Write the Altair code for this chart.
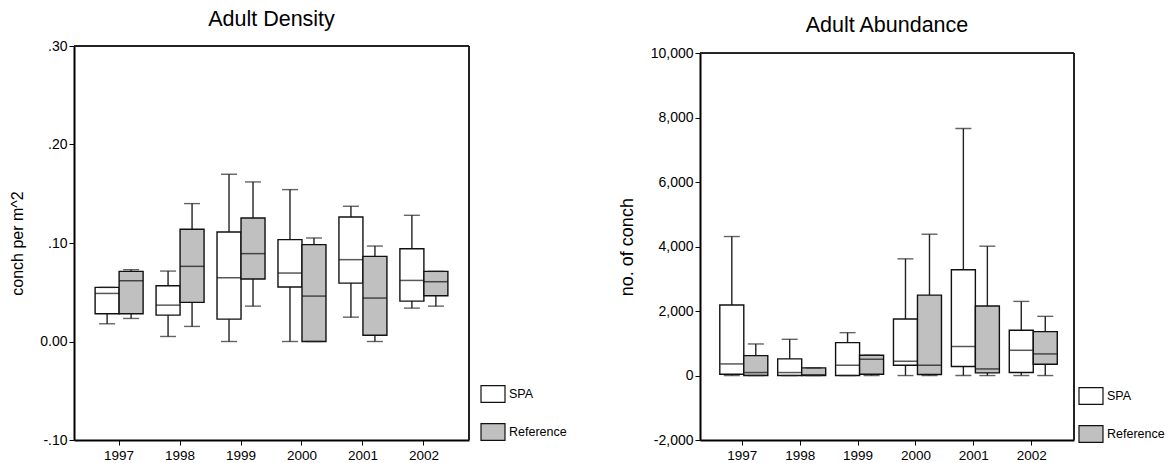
import altair as alt
import pandas as pd

years = ["1997", "1998", "1999", "2000", "2001", "2002"]
groups = ["SPA", "Reference"]

# Adult Density (conch per m^2)
dens_spa_lower = [0.018, 0.0051, 0.0, 0.0, 0.0247, 0.0339]
dens_spa_q1 = [0.0281, 0.0268, 0.0227, 0.0553, 0.0593, 0.0410]
dens_spa_med = [0.0488, 0.0369, 0.0647, 0.0695, 0.0831, 0.0620]
dens_spa_q3 = [0.0549, 0.0566, 0.1112, 0.1034, 0.1264, 0.0942]
dens_spa_upper = [0.0549, 0.0715, 0.1698, 0.1542, 0.1373, 0.1281]
dens_ref_lower = [0.0234, 0.0153, 0.0359, 0.0, 0.0, 0.0359]
dens_ref_q1 = [0.0281, 0.0397, 0.0634, 0.0, 0.0064, 0.0464]
dens_ref_med = [0.0617, 0.0763, 0.0892, 0.0461, 0.0441, 0.0607]
dens_ref_q3 = [0.0712, 0.1139, 0.1254, 0.0983, 0.0864, 0.0712]
dens_ref_upper = [0.0729, 0.1400, 0.1620, 0.1051, 0.0969, 0.0712]

# Adult Abundance (no. of conch)
abund_spa_lower = [0, 0, 0, 0, 0, 0]
abund_spa_q1 = [41, 0, 0, 320, 279, 93]
abund_spa_med = [361, 93, 320, 444, 898, 784]
abund_spa_q3 = [2188, 516, 1022, 1754, 3282, 1404]
abund_spa_upper = [4314, 1125, 1331, 3622, 7668, 2301]
abund_ref_lower = [0, 0, 0, 0, 0, 0]
abund_ref_q1 = [0, 0, 41, 31, 83, 351]
abund_ref_med = [93, 21, 506, 320, 206, 671]
abund_ref_q3 = [619, 237, 630, 2497, 2157, 1362]
abund_ref_upper = [980, 237, 630, 4386, 4014, 1837]

dens_ticks = [-0.1, 0.0, 0.1, 0.2, 0.3]
abund_ticks = [-2000, 0, 2000, 4000, 6000, 8000, 10000]

FONT = "Liberation Sans"


def make_df(spa, ref):
    rows = []
    for g, s in (("SPA", spa), ("Reference", ref)):
        lo, q1, md, q3, up = s
        for i, yr in enumerate(years):
            rows.append(dict(year=yr, group=g, lower=lo[i], q1=q1[i],
                             median=md[i], q3=q3[i], upper=up[i]))
    return pd.DataFrame(rows)


dens_df = make_df(
    (dens_spa_lower, dens_spa_q1, dens_spa_med, dens_spa_q3, dens_spa_upper),
    (dens_ref_lower, dens_ref_q1, dens_ref_med, dens_ref_q3, dens_ref_upper))
abund_df = make_df(
    (abund_spa_lower, abund_spa_q1, abund_spa_med, abund_spa_q3, abund_spa_upper),
    (abund_ref_lower, abund_ref_q1, abund_ref_med, abund_ref_q3, abund_ref_upper))


def panel(df, title, ytitle, ytitle_size, domain, ticks, label_expr, w, h, top_gap,
          xpad, opad, box_w, legend_x, legend_y, title_offset, title_dy):
    x = alt.X("year:N", sort=years,
              scale=alt.Scale(domain=years, paddingInner=0, paddingOuter=xpad),
              axis=alt.Axis(title=None, labelAngle=0))
    xo = alt.XOffset("group:N",
                     scale=alt.Scale(domain=groups, paddingInner=0, paddingOuter=opad))
    yscale = alt.Scale(domain=domain, nice=False, zero=False, range=[h, top_gap])
    yaxis = alt.Axis(title=ytitle, values=ticks, labelExpr=label_expr,
                     titleFontSize=ytitle_size)
    base = alt.Chart(df).encode(x=x, xOffset=xo)
    whisk = base.mark_rule(color="#222", strokeWidth=1.4).encode(
        y=alt.Y("lower:Q", scale=yscale, axis=yaxis), y2="upper:Q")
    box = base.mark_bar(stroke="#111", strokeWidth=1.4).encode(
        y=alt.Y("q1:Q", scale=yscale), y2="q3:Q",
        fill=alt.Fill("group:N",
                      scale=alt.Scale(domain=groups, range=["#ffffff", "#c0c0c0"]),
                      legend=alt.Legend(title=None, orient="none",
                                        legendX=legend_x, legendY=legend_y,
                                        symbolType="M-1,-0.7H1V0.7H-1Z",
                                        symbolSize=576, symbolStrokeColor="#111",
                                        symbolStrokeWidth=1.2, symbolOpacity=1,
                                        labelFontSize=12.5, labelFont=FONT,
                                        labelColor="#000", labelOffset=3,
                                        rowPadding=14, padding=0)))
    med = base.mark_tick(color="#111", size=box_w, thickness=1.5).encode(
        y=alt.Y("median:Q", scale=yscale))
    cap_lo = base.mark_tick(color="#222", size=16, thickness=1.4).encode(
        y=alt.Y("lower:Q", scale=yscale))
    cap_hi = base.mark_tick(color="#222", size=16, thickness=1.4).encode(
        y=alt.Y("upper:Q", scale=yscale))
    # plot frame: top and right edges
    frame_top = alt.Chart(df).mark_rule(color="#222", strokeWidth=1).encode(
        x=alt.value(0), x2=alt.value(w), y=alt.Y(datum=domain[1], scale=yscale))
    frame_right = alt.Chart(df).mark_rule(color="#222", strokeWidth=1).encode(
        x=alt.value(w), y=alt.Y(datum=domain[0], scale=yscale),
        y2=alt.Y2(datum=domain[1]))
    tparams = dict(text=title, fontSize=21.5, fontWeight="normal", font=FONT,
                   color="#000", frame="group", anchor="middle",
                   offset=title_offset, dy=title_dy)
    return alt.layer(whisk, box, med, cap_lo, cap_hi, frame_top, frame_right).properties(
        width=w, height=h, title=alt.TitleParams(**tparams))


left = panel(dens_df, "Adult Density", "conch per m^2", 16, [-0.1, 0.3], dens_ticks,
             "datum.value == 0 ? '0.00' : (datum.value < 0 ? '-' : '') + "
             "replace(format(abs(datum.value), '.2f'), '0.', '.')",
             395, 394, 0, 0.24, 0.27, 24, 406, 335, 9, 0)

right = panel(abund_df, "Adult Abundance", "no. of conch", 18, [-2000, 10000],
              abund_ticks,
              "(datum.value < 0 ? '-' : '') + format(abs(datum.value), ',')",
              374, 394, 7.3, 0.23, 0.24, 23, 378, 337, 9, -1)

chart = alt.hconcat(left, right, spacing=49).resolve_scale(
    fill="independent"
).resolve_legend(
    fill="independent"
).configure(
    padding={"top": 0, "left": 1, "right": 0, "bottom": 0}
).configure_view(
    stroke="transparent"
).configure_axis(
    grid=False, domainColor="#000", domainWidth=2, tickColor="#000",
    tickWidth=1, tickSize=5, labelFont=FONT, labelFontSize=14, labelColor="#000",
    labelPadding=2, titleFont=FONT, titleFontSize=16, titleFontWeight="normal",
    titleColor="#000", titlePadding=14
).configure_axisX(labelPadding=3, labelFontSize=13.5)

chart.save("out.html", embed_options={"renderer": "svg", "actions": False})
